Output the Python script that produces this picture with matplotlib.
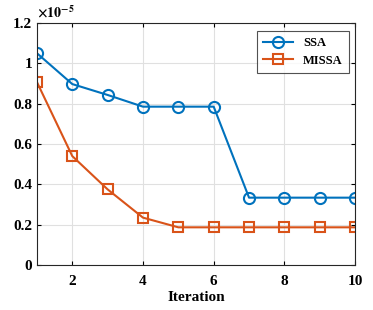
import numpy as np
import matplotlib.pyplot as plt

iterations = [1, 2, 3, 4, 5, 6, 7, 8, 9, 10]
ssa = [1.05, 0.897, 0.843, 0.785, 0.785, 0.785, 0.334, 0.334, 0.334, 0.334]
missa = [0.907, 0.54, 0.375, 0.235, 0.187, 0.187, 0.187, 0.187, 0.187, 0.187]

plt.rcParams['font.family'] = ['Liberation Serif', 'DejaVu Serif']
plt.rcParams['font.weight'] = 'bold'
plt.rcParams['mathtext.fontset'] = 'stix'

fig = plt.figure(figsize=(3.73, 3.10), dpi=100)
ax = fig.add_axes([0.099, 0.145, 0.853, 0.781])

ax.plot(iterations, ssa, color='#0072BD', lw=1.5, marker='o', ms=8,
        mfc='none', mew=1.5, label='SSA')
ax.plot(iterations, missa, color='#D95319', lw=1.5, marker='s', ms=7,
        mfc='none', mew=1.5, label='MISSA')

ax.set_xlim(1, 10)
ax.set_ylim(0, 1.2)
ax.set_xticks([2, 4, 6, 8, 10])
ax.set_yticks([0, 0.2, 0.4, 0.6, 0.8, 1.0, 1.2])
ax.set_yticklabels(['0', '0.2', '0.4', '0.6', '0.8', '1', '1.2'])
ax.tick_params(direction='in', top=True, right=True, labelsize=11, length=3)
ax.tick_params(axis='x', pad=7)
ax.grid(True, color='#e0e0e0', lw=0.8)
ax.set_axisbelow(True)
for s in ax.spines.values():
    s.set_color('#262626')
    s.set_linewidth(0.8)

ax.set_xlabel('Iteration', fontsize=11, fontweight='bold', labelpad=2)
ax.text(0.0, 1.01, r'$\times 10^{-5}$', transform=ax.transAxes, fontsize=10,
        ha='left', va='bottom', fontweight='normal')

leg = ax.legend(loc='upper right', fontsize=9, fancybox=False, edgecolor='#262626',
                handlelength=2.4, borderpad=0.5, labelspacing=0.45,
                borderaxespad=0, bbox_to_anchor=(0.981, 0.967))
leg.get_frame().set_linewidth(0.8)

fig.savefig('out.png', dpi=100)
